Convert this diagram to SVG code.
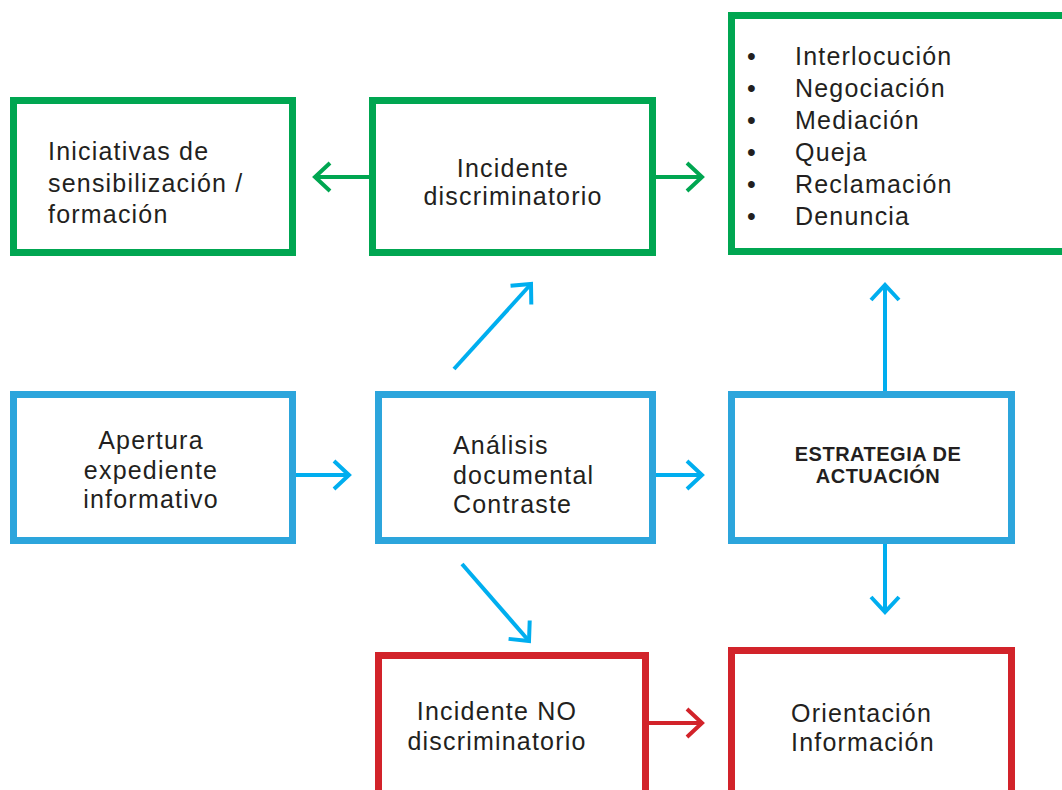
<svg xmlns="http://www.w3.org/2000/svg" width="1062" height="790" viewBox="0 0 1062 790">
<style>
.box{fill:#fff;stroke-width:7}
.g{stroke:#00A651}
.b{stroke:#2CA5DC}
.r{stroke:#D2232A}
.t{font-family:"Liberation Sans",Arial,sans-serif;font-size:25px;letter-spacing:1.2px;fill:#231F20}
.tb{font-family:"Liberation Sans",Arial,sans-serif;font-size:20px;font-weight:bold;letter-spacing:0.5px;fill:#231F20}
.c{fill:none;stroke-width:4}
</style>
<defs>
<marker id="ag" markerUnits="userSpaceOnUse" viewBox="-25 -25 50 50" markerWidth="50" markerHeight="50" refX="0" refY="0" orient="auto"><path d="M-15,-14 L0,0 L-15,14" fill="none" stroke="#00A651" stroke-width="4"/></marker>
<marker id="ab" markerUnits="userSpaceOnUse" viewBox="-25 -25 50 50" markerWidth="50" markerHeight="50" refX="0" refY="0" orient="auto"><path d="M-15,-14 L0,0 L-15,14" fill="none" stroke="#00AEEF" stroke-width="4"/></marker>
<marker id="ar" markerUnits="userSpaceOnUse" viewBox="-25 -25 50 50" markerWidth="50" markerHeight="50" refX="0" refY="0" orient="auto"><path d="M-15,-14 L0,0 L-15,14" fill="none" stroke="#D2232A" stroke-width="4"/></marker>
</defs>
<rect width="1062" height="790" fill="#fff"/>
<g id="connectors">
<line class="c" stroke="#00A651" x1="369" y1="177" x2="315" y2="177" marker-end="url(#ag)"/>
<line class="c" stroke="#00A651" x1="656" y1="177" x2="702" y2="177" marker-end="url(#ag)"/>
<line class="c" stroke="#00AEEF" x1="296" y1="475" x2="349" y2="475" marker-end="url(#ab)"/>
<line class="c" stroke="#00AEEF" x1="656" y1="475" x2="702" y2="475" marker-end="url(#ab)"/>
<line class="c" stroke="#D2232A" x1="649" y1="723" x2="702" y2="723" marker-end="url(#ar)"/>
<line class="c" stroke="#00AEEF" x1="454" y1="369" x2="531" y2="284" marker-end="url(#ab)"/>
<line class="c" stroke="#00AEEF" x1="462" y1="564" x2="529" y2="641" marker-end="url(#ab)"/>
<line class="c" stroke="#00AEEF" x1="885" y1="391" x2="885" y2="285" marker-end="url(#ab)"/>
<line class="c" stroke="#00AEEF" x1="885" y1="544" x2="885" y2="612" marker-end="url(#ab)"/>
</g>
<g id="n1">
<rect class="box g" x="13.5" y="100.5" width="279" height="152"/>
<text class="t" x="48" y="160">Iniciativas de</text>
<text class="t" x="48" y="192">sensibilización /</text>
<text class="t" x="48" y="223">formación</text>
</g>
<g id="n2">
<rect class="box g" x="372.5" y="100.5" width="280" height="152"/>
<text class="t" x="513" y="177" text-anchor="middle">Incidente</text>
<text class="t" x="513" y="205" text-anchor="middle">discriminatorio</text>
</g>
<g id="n3">
<rect class="box g" x="731.5" y="15.5" width="340" height="236"/>
<g class="t">
<text x="747" y="65">•</text><text x="795" y="65">Interlocución</text>
<text x="747" y="97">•</text><text x="795" y="97">Negociación</text>
<text x="747" y="129">•</text><text x="795" y="129">Mediación</text>
<text x="747" y="161">•</text><text x="795" y="161">Queja</text>
<text x="747" y="193">•</text><text x="795" y="193">Reclamación</text>
<text x="747" y="225">•</text><text x="795" y="225">Denuncia</text>
</g>
</g>
<g id="n4">
<rect class="box b" x="13.5" y="394.5" width="279" height="146"/>
<text class="t" x="151" y="449" text-anchor="middle">Apertura</text>
<text class="t" x="151" y="479" text-anchor="middle">expediente</text>
<text class="t" x="151" y="508" text-anchor="middle">informativo</text>
</g>
<g id="n5">
<rect class="box b" x="378.5" y="394.5" width="274" height="146"/>
<text class="t" x="453" y="454">Análisis</text>
<text class="t" x="453" y="484">documental</text>
<text class="t" x="453" y="513">Contraste</text>
</g>
<g id="n6">
<rect class="box b" x="731.5" y="394.5" width="280" height="146"/>
<text class="tb" x="878" y="461" text-anchor="middle">ESTRATEGIA DE</text>
<text class="tb" x="878" y="483" text-anchor="middle">ACTUACIÓN</text>
</g>
<g id="n7">
<rect class="box r" x="378.5" y="655.5" width="267" height="150"/>
<text class="t" x="497" y="720" text-anchor="middle">Incidente NO</text>
<text class="t" x="497" y="750" text-anchor="middle">discriminatorio</text>
</g>
<g id="n8">
<rect class="box r" x="731.5" y="650.5" width="280" height="155"/>
<text class="t" x="791" y="722">Orientación</text>
<text class="t" x="791" y="751">Información</text>
</g>
</svg>
